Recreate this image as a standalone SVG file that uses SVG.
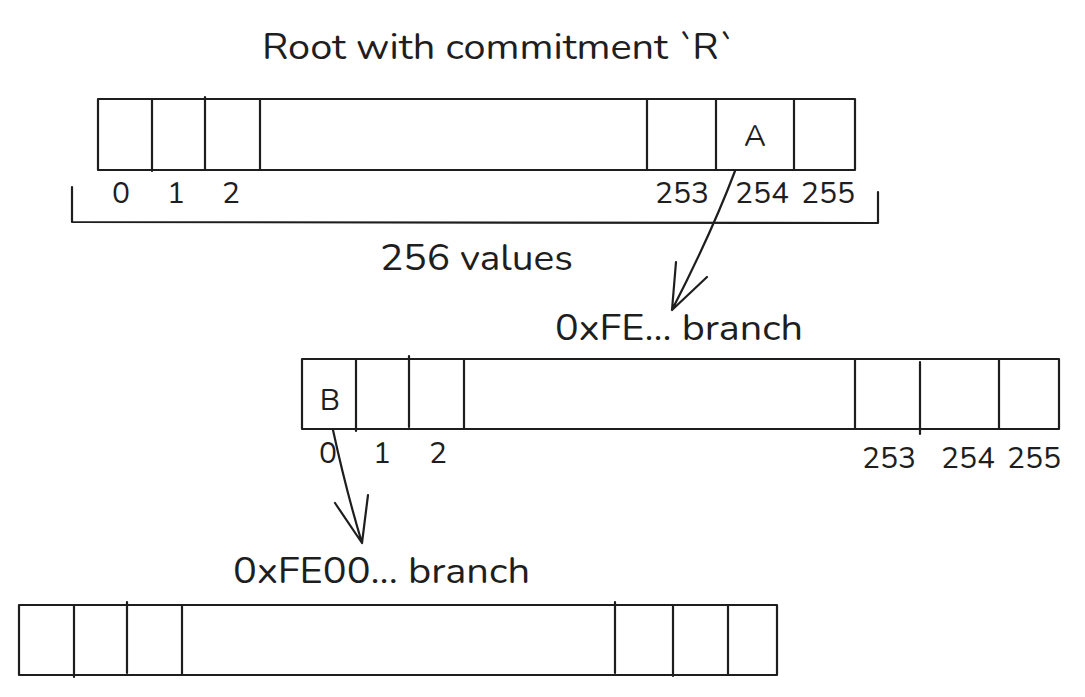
<svg xmlns="http://www.w3.org/2000/svg" width="1085" height="697" viewBox="0 0 1085 697">
<style>
.box{fill:none;stroke:#1e1e1e;stroke-width:2.2;stroke-linejoin:round}
.ln{fill:none;stroke:#1e1e1e;stroke-width:2.2;stroke-linecap:round;stroke-linejoin:round}
.big{font-family:"Nunito","Lato","Open Sans","Liberation Sans",sans-serif;font-size:37px;fill:#1e1e1e}
.sm{font-family:"Nunito","Lato","Open Sans","Liberation Sans",sans-serif;font-size:30px;fill:#1e1e1e;text-anchor:middle}
</style>
<rect width="1085" height="697" fill="#ffffff"/>
<g id="title"><text class="big" x="262" y="59" textLength="471" lengthAdjust="spacingAndGlyphs">Root with commitment `R`</text></g>
<g id="root-array">
<rect class="box" x="98" y="99" width="757" height="71"/>
<path class="ln" d="M152,99V171M205,97V170M260,99V170M647,99V170M716,99V170M794,99V170"/>
<text class="sm" x="755" y="146">A</text>
<text class="sm" x="121" y="203">0</text>
<text class="sm" x="176" y="203">1</text>
<text class="sm" x="231" y="203">2</text>
<text class="sm" x="682" y="203" textLength="54">253</text>
<text class="sm" x="762" y="203" textLength="54">254</text>
<text class="sm" x="828" y="203" textLength="54">255</text>
</g>
<g id="bracket">
<path class="ln" d="M72,187V222L878,223V192"/>
<text class="big" x="380" y="270" textLength="193" lengthAdjust="spacingAndGlyphs">256 values</text>
</g>
<g id="branch-fe">
<text class="big" x="555" y="340" textLength="248" lengthAdjust="spacingAndGlyphs">0xFE... branch</text>
<rect class="box" x="302" y="359" width="757" height="70"/>
<path class="ln" d="M356,359V431M409,356V427M464,359V429M855,359V429M920,362V434M999,359V429"/>
<text class="sm" x="330" y="410">B</text>
<text class="sm" x="328" y="463">0</text>
<text class="sm" x="382" y="463">1</text>
<text class="sm" x="438" y="463">2</text>
<text class="sm" x="889" y="468" textLength="54">253</text>
<text class="sm" x="968" y="468" textLength="54">254</text>
<text class="sm" x="1034" y="468" textLength="54">255</text>
</g>
<g id="branch-fe00">
<text class="big" x="233" y="583" textLength="297" lengthAdjust="spacingAndGlyphs">0xFE00... branch</text>
<rect class="box" x="19" y="605" width="758" height="70"/>
<path class="ln" d="M74,605V677M127,602V673M182,605V675M615,602V673M673,605V676M728,605V675"/>
</g>
<g id="connectors">
<path class="ln" d="M735,171Q712,232 672,310M676,262L672,310L707,277"/>
<path class="ln" d="M333,430Q346,490 362,543M335,503L362,543L368,495"/>
</g>
</svg>
